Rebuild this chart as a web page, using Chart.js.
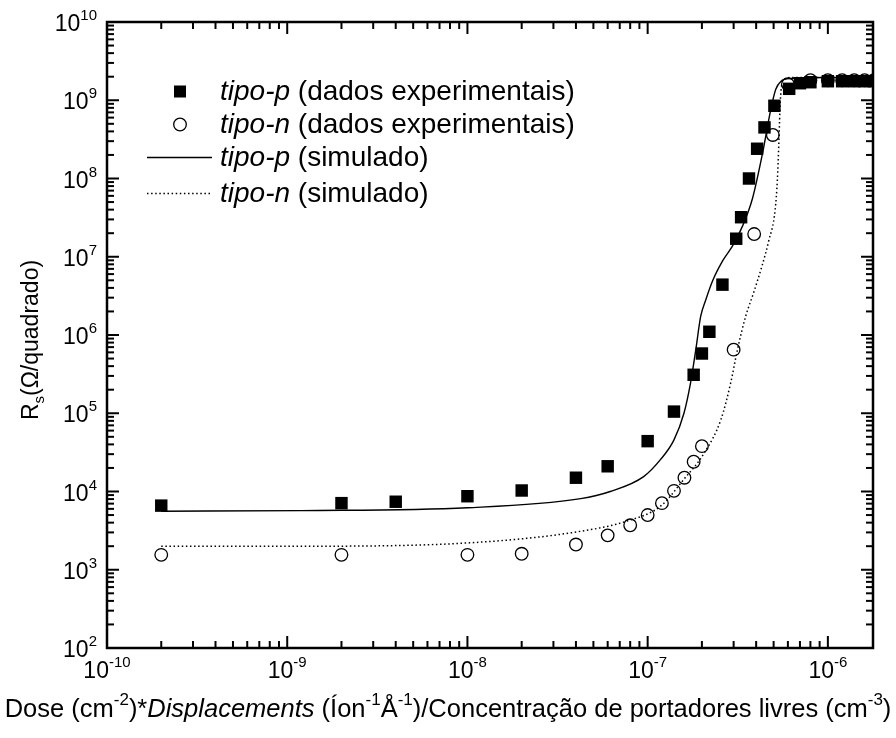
<!DOCTYPE html>
<html>
<head>
<meta charset="utf-8">
<script src="https://cdn.jsdelivr.net/npm/chart.js@4.4.0/dist/chart.umd.min.js"></script>
<style>
  html, body { margin: 0; padding: 0; background: #fff; }
  #wrap { width: 896px; height: 738px; }
</style>
</head>
<body>
<div id="wrap"><canvas id="rs" width="896" height="738"></canvas></div>
<script>
// values (dose factor vs sheet resistance)
const pDoseExp = [2e-10, 2e-9, 4e-9, 1e-8, 2e-8, 4e-8, 6e-8, 1e-7, 1.4e-7, 1.8e-7, 2e-7, 2.2e-7, 2.6e-7, 3.1e-7, 3.3e-7, 3.65e-7, 4.05e-7, 4.45e-7, 5.05e-7, 6.1e-7, 7e-7, 8e-7, 1e-6, 1.2e-6, 1.4e-6, 1.6e-6, 1.8e-6];
const pRsExp = [6.6e3, 7.1e3, 7.4e3, 8.7e3, 1.03e4, 1.5e4, 2.1e4, 4.4e4, 1.05e5, 3.1e5, 5.8e5, 1.1e6, 4.4e6, 1.7e7, 3.2e7, 1.0e8, 2.4e8, 4.5e8, 8.5e8, 1.4e9, 1.65e9, 1.7e9, 1.75e9, 1.75e9, 1.75e9, 1.75e9, 1.75e9];

const nDoseExp = [2e-10, 2e-9, 1e-8, 2e-8, 4e-8, 6e-8, 8e-8, 1e-7, 1.2e-7, 1.4e-7, 1.6e-7, 1.8e-7, 2e-7, 3e-7, 3.9e-7, 4.95e-7, 6e-7, 8e-7, 1e-6, 1.2e-6, 1.4e-6, 1.6e-6, 1.8e-6];
const nRsExp = [1.55e3, 1.55e3, 1.55e3, 1.6e3, 2.1e3, 2.75e3, 3.7e3, 5.0e3, 7.1e3, 1.02e4, 1.5e4, 2.4e4, 3.8e4, 6.5e5, 1.95e7, 3.6e8, 1.6e9, 1.8e9, 1.8e9, 1.8e9, 1.8e9, 1.8e9, 1.8e9];

const pDoseSim = [2e-10, 1.2e-9, 1e-8, 4.25e-8, 6.2e-8, 9.5e-8, 1.18e-7, 1.4e-7, 1.59e-7, 1.73e-7, 1.85e-7, 1.97e-7, 2.1e-7, 2.3e-7, 2.61e-7, 2.97e-7, 3.37e-7, 3.82e-7, 4.34e-7, 4.82e-7, 5.14e-7, 5.48e-7, 6.2e-7, 1e-6, 1.8e-6];
const pRsSim = [5.6e3, 5.7e3, 6.2e3, 8.1e3, 1.0e4, 1.55e4, 2.57e4, 4.57e4, 1.0e5, 2.45e5, 6.5e5, 1.74e6, 2.8e6, 5.0e6, 8.9e6, 1.4e7, 2.5e7, 5.6e7, 2.1e8, 7.6e8, 1.38e9, 1.74e9, 1.9e9, 1.95e9, 1.95e9];

const nDoseSim = [2e-10, 1.2e-9, 1e-8, 4.25e-8, 7.7e-8, 1.18e-7, 1.58e-7, 2.06e-7, 2.55e-7, 2.89e-7, 3.15e-7, 3.5e-7, 3.86e-7, 4.3e-7, 4.7e-7, 5.1e-7, 5.25e-7, 5.35e-7, 5.45e-7, 5.65e-7, 6.2e-7, 1e-6, 1.8e-6];
const nRsSim = [2.0e3, 2.0e3, 2.2e3, 3.1e3, 4.2e3, 6.5e3, 1.41e4, 3.1e4, 8.3e4, 2.45e5, 6.5e5, 1.74e6, 3.4e6, 7.5e6, 1.6e7, 4.0e7, 1.0e8, 3.0e8, 1.0e9, 1.8e9, 1.95e9, 1.95e9, 1.95e9];

// tick label exponents (10^n)
const xTickExp = [-10, -9, -8, -7, -6];
const yTickExp = [2, 3, 4, 5, 6, 7, 8, 9, 10];

const FONT = '"Liberation Sans", Arial, Helvetica, sans-serif';

const zip = (xs, ys) => xs.map((x, i) => ({ x, y: ys[i] }));

// draws a run of text pieces: [text, style] with style '', 'i', 'sup', 'sub'
function drawRich(ctx, parts, x, y, align, size) {
  const small = Math.round(size * 0.66);
  const fontFor = (s) => (s === 'i' ? 'italic ' : '') + (s === 'sup' || s === 'sub' ? small : size) + 'px ' + FONT;
  const widths = parts.map(([t, s]) => { ctx.font = fontFor(s); return ctx.measureText(t).width; });
  const total = widths.reduce((a, b) => a + b, 0);
  let cx = align === 'center' ? x - total / 2 : align === 'right' ? x - total : x;
  ctx.textAlign = 'left';
  ctx.textBaseline = 'alphabetic';
  parts.forEach(([t, s], i) => {
    ctx.font = fontFor(s);
    const dy = s === 'sup' ? -size * 0.47 : s === 'sub' ? size * 0.28 : 0;
    ctx.fillText(t, cx, y + dy);
    cx += widths[i];
  });
}

const originAxes = {
  id: 'originAxes',
  afterDraw(chart) {
    const { ctx, chartArea: a, scales: { x, y } } = chart;
    ctx.save();
    ctx.strokeStyle = '#000';
    ctx.fillStyle = '#000';

    const line = (x1, y1, x2, y2) => { ctx.beginPath(); ctx.moveTo(x1, y1); ctx.lineTo(x2, y2); ctx.stroke(); };
    ctx.lineWidth = 2;

    // inward ticks on all four sides
    for (let e = Math.floor(Math.log10(x.min)); e <= Math.ceil(Math.log10(x.max)); e++) {
      for (let m = 1; m < 10; m++) {
        const v = m * Math.pow(10, e);
        if (v < x.min * 0.999 || v > x.max * 1.001) continue;
        const px = x.getPixelForValue(v);
        const len = m === 1 ? 12 : 7;
        line(px, a.bottom, px, a.bottom - len);
        line(px, a.top, px, a.top + len);
      }
    }
    for (let e = Math.floor(Math.log10(y.min)); e <= Math.ceil(Math.log10(y.max)); e++) {
      for (let m = 1; m < 10; m++) {
        const v = m * Math.pow(10, e);
        if (v < y.min * 0.999 || v > y.max * 1.001) continue;
        const py = y.getPixelForValue(v);
        const len = m === 1 ? 12 : 7;
        line(a.left, py, a.left + len, py);
        line(a.right, py, a.right - len, py);
      }
    }

    ctx.lineWidth = 2.5;
    ctx.strokeRect(a.left, a.top, a.right - a.left, a.bottom - a.top);

    // tick labels
    xTickExp.forEach((n) => {
      const px = x.getPixelForValue(Math.pow(10, n));
      drawRich(ctx, [['10', ''], [String(n), 'sup']], px, a.bottom + 30, 'center', 23);
    });
    yTickExp.forEach((n) => {
      const py = y.getPixelForValue(Math.pow(10, n));
      drawRich(ctx, [['10', ''], [String(n), 'sup']], a.left - 10, py + 9, 'right', 23);
    });

    // axis titles
    drawRich(ctx, [
      ['Dose (cm', ''], ['-2', 'sup'], [')*', ''], ['Displacements', 'i'],
      [' (Íon', ''], ['-1', 'sup'], ['Å', ''], ['-1', 'sup'],
      [')/Concentração de portadores livres (cm', ''], ['-3', 'sup'], [')', '']
    ], 448, 717, 'center', 25.5);

    ctx.save();
    ctx.translate(38, 340);
    ctx.rotate(-Math.PI / 2);
    drawRich(ctx, [['R', ''], ['s', 'sub'], ['(Ω/quadrado)', '']], 0, 0, 'center', 23);
    ctx.restore();

    // legend
    const ds = chart.data.datasets;
    const rows = [91.5, 124.5, 157.5, 193.5];
    const size = 28;
    rows.forEach((ry, i) => {
      const d = ds[i];
      if (d.showLine) {
        ctx.lineWidth = d.borderWidth;
        ctx.setLineDash(d.borderDash || []);
        line(147, ry, 212, ry);
        ctx.setLineDash([]);
      } else if (d.pointStyle === 'rect') {
        ctx.fillRect(174, ry - 6, 12, 12);
      } else {
        ctx.lineWidth = d.pointBorderWidth;
        ctx.beginPath();
        ctx.arc(180, ry, d.pointRadius, 0, Math.PI * 2);
        ctx.stroke();
      }
      const [tipo, rest] = d.label.split(/ (.*)/s);
      drawRich(ctx, [[tipo, 'i'], [' ' + rest, '']], 220, ry + 0.32 * size, 'left', size);
    });

    ctx.restore();
  }
};

new Chart(document.getElementById('rs'), {
  type: 'scatter',
  data: {
    datasets: [
      {
        label: 'tipo-p (dados experimentais)',
        data: zip(pDoseExp, pRsExp),
        showLine: false,
        pointStyle: 'rect',
        pointRadius: 8.8,
        pointBorderWidth: 0,
        backgroundColor: '#000',
        borderColor: '#000'
      },
      {
        label: 'tipo-n (dados experimentais)',
        data: zip(nDoseExp, nRsExp),
        showLine: false,
        pointStyle: 'circle',
        pointRadius: 6.3,
        pointBorderWidth: 1.3,
        backgroundColor: 'rgba(0,0,0,0)',
        borderColor: '#000'
      },
      {
        label: 'tipo-p (simulado)',
        data: zip(pDoseSim, pRsSim),
        showLine: true,
        pointRadius: 0,
        borderWidth: 1.4,
        borderColor: '#000',
        cubicInterpolationMode: 'monotone'
      },
      {
        label: 'tipo-n (simulado)',
        data: zip(nDoseSim, nRsSim),
        showLine: true,
        pointRadius: 0,
        borderWidth: 1.5,
        borderDash: [1.5, 2.6],
        borderColor: '#000',
        cubicInterpolationMode: 'monotone'
      }
    ]
  },
  options: {
    responsive: false,
    animation: false,
    events: [],
    layout: { padding: { left: 107, right: 23, top: 22, bottom: 90 } },
    plugins: { legend: { display: false }, tooltip: { enabled: false } },
    scales: {
      x: { type: 'logarithmic', min: 1e-10, max: 1.78e-6, display: false },
      y: { type: 'logarithmic', min: 1e2, max: 1e10, display: false }
    }
  },
  plugins: [originAxes]
});
</script>
</body>
</html>
